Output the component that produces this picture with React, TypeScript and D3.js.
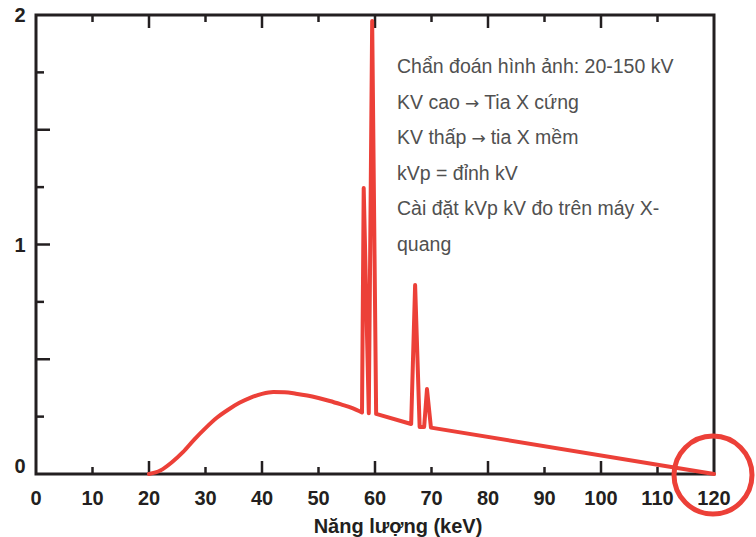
import React from 'react';
import * as d3 from 'd3';

// smooth bremsstrahlung part
const contEnergy = [20, 22, 24, 26, 28, 30, 32, 34, 36, 38, 40, 42, 44, 46, 48, 50, 52, 54, 56, 57.7];
const contIntensity = [0, 0.015, 0.05, 0.095, 0.15, 0.2, 0.245, 0.28, 0.31, 0.333, 0.349, 0.357, 0.356, 0.35, 0.342, 0.331, 0.318, 0.303, 0.287, 0.268];
// characteristic lines + linear tail
const lineEnergy = [57.7, 58.0, 58.9, 59.5, 60.2, 66.4, 67.1, 67.9, 68.7, 69.2, 69.9, 120];
const lineIntensity = [0.268, 1.246, 0.265, 1.974, 0.262, 0.218, 0.823, 0.205, 0.205, 0.37, 0.202, 0];

const xTicks = d3.range(0, 121, 10);
const yTicks = d3.range(0, 2.01, 0.25);
const yLabels = [0, 1, 2];
const notes = [
  'Chẩn đoán hình ảnh: 20-150 kV',
  'KV cao → Tia X cứng',
  'KV thấp → tia X mềm',
  'kVp = đỉnh kV',
  'Cài đặt kVp kV đo trên máy X-',
  'quang',
];

const W = 756;
const H = 537;
const left = 36, right = 714, top = 15, bottom = 474;
const axisColor = '#231f20';
const red = '#ec4038';

export default function App() {
  const x = d3.scaleLinear().domain([0, 120]).range([left, right]);
  const y = d3.scaleLinear().domain([0, 2]).range([bottom, top]);

  const smooth = d3.line<[number, number]>()
    .x(d => x(d[0]))
    .y(d => y(d[1]))
    .curve(d3.curveMonotoneX);
  const straight = d3.line<[number, number]>()
    .x(d => x(d[0]))
    .y(d => y(d[1]));

  const contPts: [number, number][] = contEnergy.map((e, i) => [e, contIntensity[i]]);
  const linePts: [number, number][] = lineEnergy.map((e, i) => [e, lineIntensity[i]]);
  // join both into one path so the join at 57.7 keV has no seam
  const d = (smooth(contPts) || '') + (straight(linePts) || '').replace(/^M/, 'L');

  const font = '"Liberation Sans", Arial, Helvetica, sans-serif';

  // arrows look bigger in the original, so draw them with DejaVu
  const renderNote = (n: string) => n.split(' → ').map((part, i, arr) => (
    <React.Fragment key={i}>
      {i > 0 && <tspan dx={5}>{part}</tspan>}
      {i === 0 && part}
      {i < arr.length - 1 && <tspan dx={5} fontFamily='"DejaVu Sans", sans-serif' fontSize={17}>→</tspan>}
    </React.Fragment>
  ));

  return (
    <div style={{ position: 'absolute', left: 0, top: 0 }}>
      <svg width={W} height={H} style={{ display: 'block', background: '#fff' }}>
        {/* frame */}
        <rect x={left} y={top} width={right - left} height={bottom - top}
          fill="none" stroke={axisColor} strokeWidth={3} />

        {/* bottom ticks */}
        {xTicks.filter(t => t > 0 && t < 120).map(t => {
          const major = t % 20 === 0;
          return <line key={'b' + t} x1={x(t)} x2={x(t)} y1={bottom} y2={bottom - (major ? 13 : 7)}
            stroke={axisColor} strokeWidth={2.5} />;
        })}
        {/* top ticks */}
        {xTicks.filter(t => t > 0 && t < 120).map(t => {
          const major = t % 20 === 0;
          return <line key={'t' + t} x1={x(t)} x2={x(t)} y1={top} y2={top + (major ? 13 : 7)}
            stroke={axisColor} strokeWidth={2.5} />;
        })}
        {/* left ticks */}
        {yTicks.filter(t => t > 0 && t < 2).map(t => {
          const major = Math.abs(t * 2 - Math.round(t * 2)) < 1e-6;
          return <line key={'l' + t} x1={left} x2={left + (major ? 14 : 8)} y1={y(t)} y2={y(t)}
            stroke={axisColor} strokeWidth={2.5} />;
        })}

        {/* x labels */}
        {xTicks.map(t => (
          <text key={'xl' + t} x={x(t)} y={505} textAnchor="middle"
            fontFamily={font} fontWeight="bold" fontSize={20} fill={axisColor}>{t}</text>
        ))}
        {/* y labels */}
        {yLabels.map(t => (
          <text key={'yl' + t} x={20} y={t === 0 ? y(t) - 1 : y(t) + 7} textAnchor="middle"
            fontFamily={font} fontWeight="bold" fontSize={20} fill={axisColor}>{t}</text>
        ))}

        <text x={398} y={533} textAnchor="middle"
          fontFamily={font} fontWeight="bold" fontSize={20} fill={axisColor}>Năng lượng (keV)</text>

        {/* spectrum */}
        <path d={d} fill="none" stroke={red} strokeWidth={4}
          strokeLinejoin="round" strokeLinecap="round" />

        {/* notes */}
        {notes.map((n, i) => (
          <text key={'n' + i} x={397} y={73 + i * 35.6}
            fontFamily={font} fontSize={19.5} fill="#505050">{renderNote(n)}</text>
        ))}

        {/* highlight circle at 120 keV */}
        <circle cx={x(120) - 1} cy={y(0) + 1} r={39} fill="none" stroke={red} strokeWidth={5} />
      </svg>
    </div>
  );
}
